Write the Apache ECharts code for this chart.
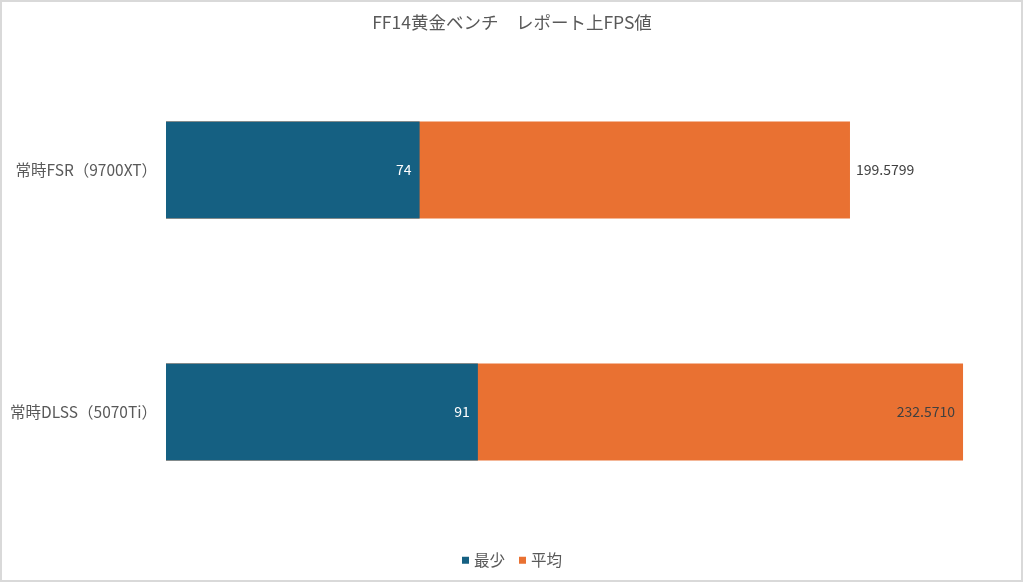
<!DOCTYPE html>
<html>
<head>
<meta charset="utf-8">
<script src="https://cdn.jsdelivr.net/npm/echarts@6/dist/echarts.min.js"></script>
<style>
  html, body { margin: 0; padding: 0; background: #fff; }
  #chart { width: 1024px; height: 583px; }
</style>
</head>
<body>
<div id="chart"></div>
<script>
const categories = ["常時FSR（9700XT）", "常時DLSS（5070Ti）"];
const minValues = [74, 91];
const avgValues = [199.5799, 232.571];
const seriesNames = ["最少", "平均"];

const textColor = "#595959";
const font = "'Noto Sans CJK JP', 'Noto Sans', sans-serif";

let dom = document.getElementById("chart");
let myChart = echarts.init(dom, null, { renderer: "canvas" });

// the average bar is drawn behind the minimum bar (100% overlap)
const avgData = avgValues.map((v, i) => ({
  value: v,
  label: {
    position: i === avgValues.length - 1 ? "insideRight" : "right",
    distance: i === avgValues.length - 1 ? 8 : 6,
  },
}));

let option = {
  animation: false,
  textStyle: { fontFamily: font },
  title: {
    text: "FF14黄金ベンチ　レポート上FPS値",
    left: "center",
    top: 9,
    textStyle: { color: textColor, fontSize: 17.5, fontWeight: "normal", fontFamily: font },
  },
  legend: {
    data: seriesNames,
    bottom: 10,
    left: "center",
    icon: "rect",
    itemWidth: 7,
    itemHeight: 7,
    itemGap: 14,
    textStyle: { color: textColor, fontSize: 15.5, fontFamily: font },
  },
  graphic: [
    {
      type: "rect",
      shape: { x: 1, y: 1, width: 1021, height: 580 },
      style: { fill: "none", stroke: "#d9d9d9", lineWidth: 2 },
      silent: true,
    },
  ],
  grid: { left: 166, right: 35.5, top: 49, bottom: 50, containLabel: false },
  xAxis: {
    type: "value",
    min: 0,
    max: 240,
    show: false,
  },
  yAxis: {
    type: "category",
    data: categories,
    inverse: true,
    axisLine: { show: false },
    axisTick: { show: false },
    axisLabel: { color: textColor, fontSize: 15.5, margin: 9, fontFamily: font },
  },
  series: [
    {
      name: seriesNames[1],
      type: "bar",
      data: avgData,
      z: 1,
      barCategoryGap: "60%",
      barGap: "-100%",
      itemStyle: { color: "#e97132" },
      label: {
        show: true,
        color: "#404040",
        fontSize: 14,
        fontFamily: font,
        formatter: (p) => p.value.toFixed(4),
      },
    },
    {
      name: seriesNames[0],
      type: "bar",
      data: minValues,
      z: 2,
      barCategoryGap: "60%",
      barGap: "-100%",
      itemStyle: { color: "#156082" },
      label: {
        show: true,
        position: "insideRight",
        distance: 8,
        color: "#ffffff",
        fontSize: 14,
        fontFamily: font,
      },
    },
  ],
};

myChart.setOption(option);
window.addEventListener("resize", myChart.resize);
</script>
</body>
</html>
